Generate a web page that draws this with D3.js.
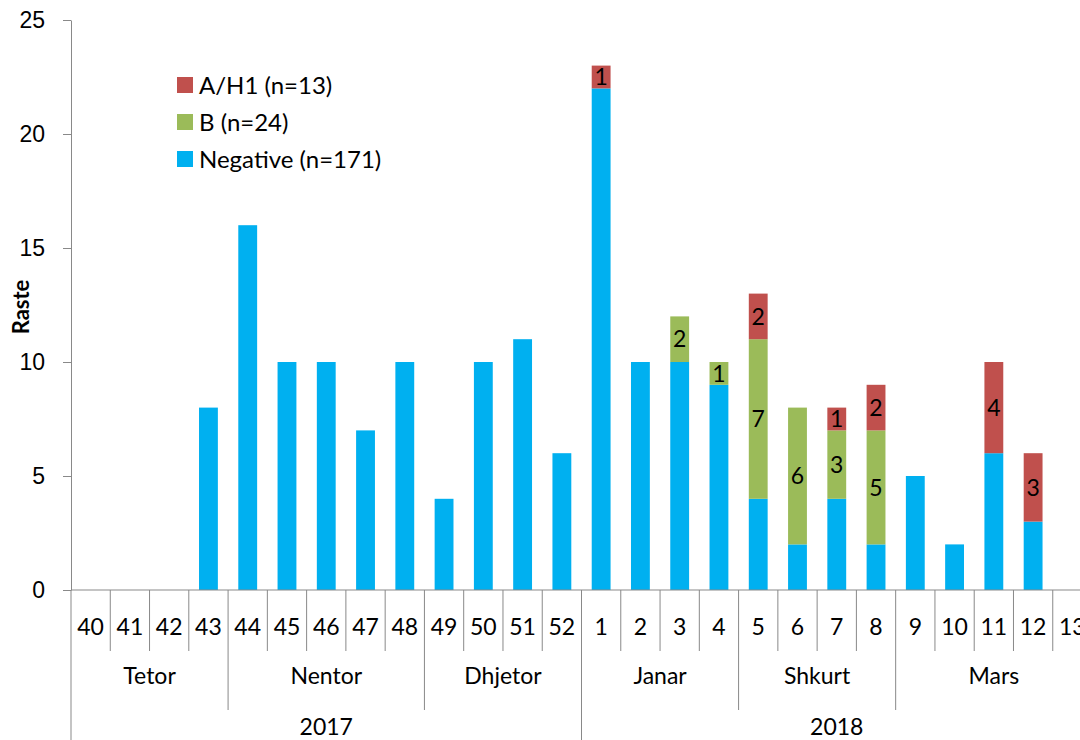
<!DOCTYPE html>
<html>
<head>
<meta charset="utf-8">
<script src="https://cdn.jsdelivr.net/npm/d3@7"></script>
<style>
  body { margin: 0; background: #fff; overflow: hidden; }
  svg { display: block; font-family: Lato, "Noto Sans", sans-serif; }
</style>
</head>
<body>
<svg width="1080" height="740"></svg>
<script>
// weeks (2017 wk 40 .. 2018 wk 13)
var weeks = ["40","41","42","43","44","45","46","47","48","49","50","51","52",
             "1","2","3","4","5","6","7","8","9","10","11","12","13"];
var negative = [0,0,0,8,16,10,10,7,10,4,10,11,6, 22,10,10,9,4,2,4,2,5,2,6,3,0];
var bVals    = [0,0,0,0,0,0,0,0,0,0,0,0,0,      0,0,2,1,7,6,3,5,0,0,0,0,0];
var ah1Vals  = [0,0,0,0,0,0,0,0,0,0,0,0,0,      1,0,0,0,2,0,1,2,0,0,4,3,0];

var months = ["Tetor","Nentor","Dhjetor","Janar","Shkurt","Mars"];
var monthSizes = [4,5,4,4,4,5];
var years = ["2017","2018"];
var yearSizes = [13,13];

var seriesNames = ["A/H1 (n=13)","B (n=24)","Negative (n=171)"];
var yTicks = [0,5,10,15,20,25];

var colors = { neg: "#00B0F0", b: "#9BBB59", ah1: "#C0504D" };
var axisColor = "#898989";
var fontSize = "23px";

var svg = d3.select("svg");
var plotLeft = 71, plotRight = 71 + 26 * 39.27, plotTop = 20, plotBottom = 590;

var x = d3.scaleBand()
  .domain(d3.range(weeks.length))
  .range([plotLeft, plotRight])
  .paddingInner(0.52)
  .paddingOuter(0.26);
var step = x.step();

var y = d3.scaleLinear().domain([0, 25]).range([plotBottom, plotTop]);

// stacked data
var rows = weeks.map(function(w, i) {
  return { i: i, neg: negative[i], b: bVals[i], ah1: ah1Vals[i] };
});
var layers = d3.stack().keys(["neg","b","ah1"])(rows);

svg.selectAll(".layer")
  .data(layers).enter()
  .append("g")
  .attr("fill", function(d) { return colors[d.key]; })
  .each(function(layer) {
    var g = d3.select(this);
    var segs = layer.filter(function(d) { return d[1] - d[0] > 0; });
    g.selectAll("rect")
      .data(segs)
      .enter().append("rect")
      .attr("x", function(d) { return x(d.data.i); })
      .attr("width", x.bandwidth())
      .attr("y", function(d) { return y(d[1]); })
      .attr("height", function(d) { return y(d[0]) - y(d[1]); });
    if (layer.key != "neg") {
      g.selectAll("text")
        .data(segs)
        .enter().append("text")
        .attr("x", function(d) { return x(d.data.i) + x.bandwidth() / 2; })
        .attr("y", function(d) { return (y(d[0]) + y(d[1])) / 2; })
        .attr("dy", "0.36em")
        .attr("text-anchor", "middle")
        .attr("fill", "#000")
        .style("font-size", fontSize)
        .text(function(d) { return d[1] - d[0]; });
    }
  });

// y axis
var yAxis = svg.append("g")
  .attr("transform", "translate(" + plotLeft + ",0)")
  .call(d3.axisLeft(y).tickValues(yTicks).tickSize(8).tickPadding(18).tickSizeOuter(0));
yAxis.select(".domain").attr("stroke", axisColor);
yAxis.selectAll(".tick line").attr("stroke", axisColor);
yAxis.selectAll(".tick text").style("font-size", fontSize).attr("fill", "#000");

svg.append("text")
  .attr("transform", "translate(29," + (plotTop + plotBottom + 4) / 2 + ") rotate(-90)")
  .attr("text-anchor", "middle")
  .style("font-size", "22px")
  .style("font-weight", "bold")
  .text("Raste");

// x axis line
svg.append("line")
  .attr("x1", plotLeft).attr("x2", plotRight)
  .attr("y1", plotBottom).attr("y2", plotBottom)
  .attr("stroke", axisColor);

// week ticks and labels
var axisG = svg.append("g");
d3.range(weeks.length + 1).forEach(function(k) {
  axisG.append("line")
    .attr("x1", plotLeft + k * step).attr("x2", plotLeft + k * step)
    .attr("y1", plotBottom).attr("y2", 651)
    .attr("stroke", axisColor);
});
axisG.selectAll(".wk")
  .data(weeks).enter()
  .append("text")
  .attr("x", function(d, i) { return x(i) + x.bandwidth() / 2; })
  .attr("y", 627)
  .attr("dy", "0.36em")
  .attr("text-anchor", "middle")
  .style("font-size", fontSize)
  .text(function(d) { return d; });

// month level
var pos = 0;
months.forEach(function(m, j) {
  var x0 = plotLeft + pos * step, x1 = plotLeft + (pos + monthSizes[j]) * step;
  axisG.append("line")
    .attr("x1", x0).attr("x2", x0).attr("y1", 651).attr("y2", 710)
    .attr("stroke", axisColor);
  axisG.append("text")
    .attr("x", (x0 + x1) / 2).attr("y", 676).attr("dy", "0.36em")
    .attr("text-anchor", "middle")
    .style("font-size", fontSize)
    .text(m);
  pos += monthSizes[j];
});

// year level
pos = 0;
years.forEach(function(yr, j) {
  var x0 = plotLeft + pos * step, x1 = plotLeft + (pos + yearSizes[j]) * step;
  axisG.append("line")
    .attr("x1", x0).attr("x2", x0).attr("y1", 710).attr("y2", 760)
    .attr("stroke", axisColor);
  axisG.append("text")
    .attr("x", (x0 + x1) / 2).attr("y", 727).attr("dy", "0.36em")
    .attr("text-anchor", "middle")
    .style("font-size", fontSize)
    .text(yr);
  pos += yearSizes[j];
});

// legend
var legendColors = [colors.ah1, colors.b, colors.neg];
var legend = svg.selectAll(".legend")
  .data(seriesNames).enter()
  .append("g")
  .attr("transform", function(d, i) { return "translate(177," + (85 + i * 37) + ")"; });
legend.append("rect")
  .attr("x", 0).attr("y", -8).attr("width", 16).attr("height", 16)
  .attr("fill", function(d, i) { return legendColors[i]; });
legend.append("text")
  .attr("x", 22).attr("y", 0).attr("dy", "0.36em")
  .style("font-size", "24px")
  .text(function(d) { return d; });
</script>
</body>
</html>
